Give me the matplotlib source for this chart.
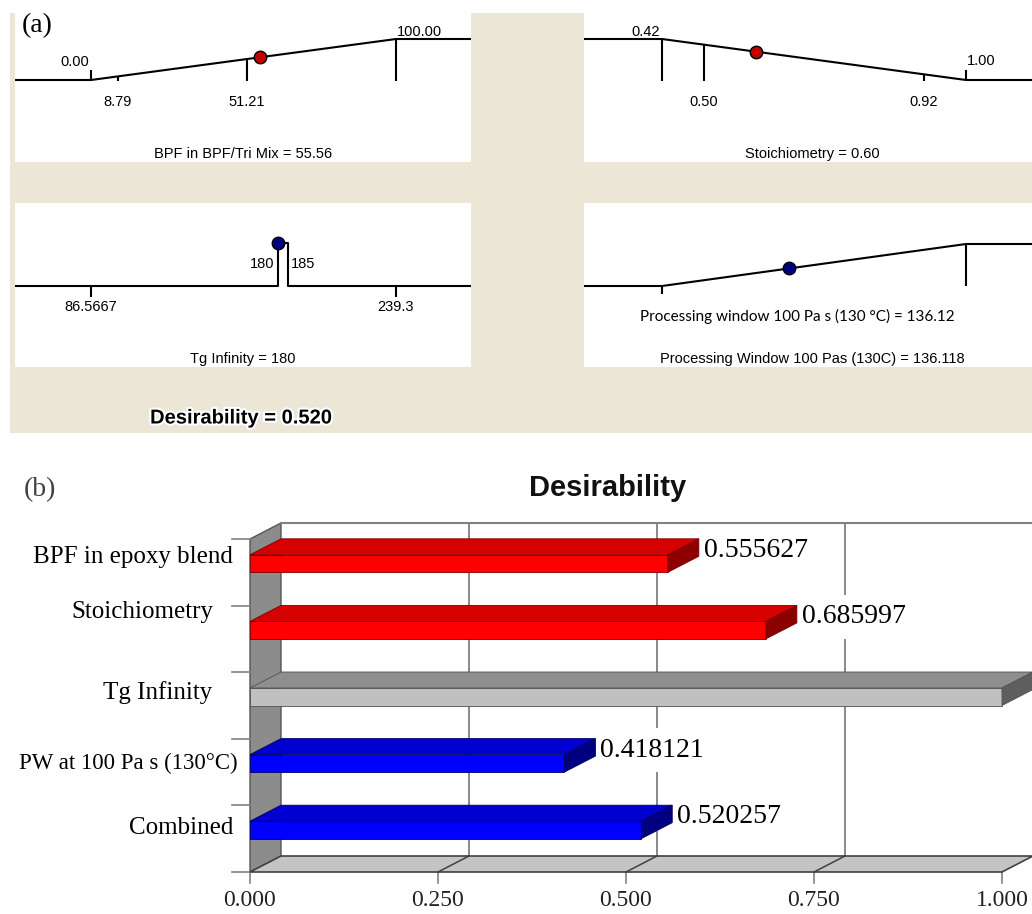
import numpy as np
import matplotlib
matplotlib.use('Agg')
import matplotlib.pyplot as plt
from matplotlib.patches import Rectangle, Polygon
import matplotlib.patheffects as pe

# ---------------- data : panel (a) ----------------
bpf_limits = [0.00, 100.00]
bpf_range = [8.79, 51.21]
bpf_value = 55.56

stoich_limits = [0.42, 1.00]
stoich_range = [0.50, 0.92]
stoich_value = 0.60

tg_range = [86.5667, 239.3]
tg_target = [180, 185]
tg_value = 180

pw_limits = [60.0, 242.0]      # estimated (not labelled in the figure)
pw_value = 136.12
pw_value_precise = 136.118
desirability_total = 0.520

# ---------------- data : panel (b) ----------------
categories = ['BPF in epoxy blend', 'Stoichiometry', 'Tg Infinity',
              'PW at 100 Pa s (130°C)', 'Combined']
desir_values = [0.555627, 0.685997, 1.0, 0.418121, 0.520257]
value_labels = ['0.555627', '0.685997', '', '0.418121', '0.520257']
bar_color_keys = ['red', 'red', 'gray', 'blue', 'blue']
x_ticks = [0.0, 0.25, 0.5, 0.75, 1.0]
x_tick_labels = ['0.000', '0.250', '0.500', '0.750', '1.000']

# ---------------- figure ----------------
W, H, DPI = 1032, 914, 100
fig = plt.figure(figsize=(W / DPI, H / DPI), dpi=DPI)
fig.patch.set_facecolor('white')

SANS = 'Liberation Sans'
SERIF = 'Liberation Serif'
BEIGE = '#ECE6D7'


def px_axes(x0, y0, x1, y1):
    ax = fig.add_axes([x0 / W, 1 - y1 / H, (x1 - x0) / W, (y1 - y0) / H])
    ax.set_xticks([]); ax.set_yticks([])
    for s in ax.spines.values():
        s.set_visible(False)
    ax.set_facecolor('white')
    return ax


def fig_text(x, y, s, **kw):
    return fig.text(x / W, 1 - y / H, s, **kw)


# beige background of panel (a)
fig.add_artist(Rectangle((10 / W, 1 - 433 / H), 1022 / W, 420 / H,
                         transform=fig.transFigure, facecolor=BEIGE,
                         edgecolor='none', zorder=-5))


def ramp_axes(box, v0, p0, v1, p1, base_px, one_px):
    x0, y0, x1, y1 = box
    ax = px_axes(x0, y0, x1, y1)
    ppu = (p1 - p0) / (v1 - v0)
    ax.set_xlim(v0 - (p0 - x0) / ppu, v0 + (x1 - p0) / ppu)
    dpu = base_px - one_px
    ax.set_ylim(-(y1 - base_px) / dpu, (base_px - y0) / dpu)
    return ax


def lab(ax, x, d, s, dx, dy, ha='center', size=10.5, family=SANS, **kw):
    ax.annotate(s, xy=(x, d), xytext=(dx, dy), textcoords='offset pixels',
                ha=ha, va='center', fontsize=size, family=family,
                annotation_clip=False, **kw)


LW = 1.5
SMALL = 10.5

# ---- BPF panel ----
ax = ramp_axes((15, 13, 471, 162), bpf_limits[0], 91, bpf_limits[1], 396, 80, 39)
xl = ax.get_xlim()
ramp = lambda x: np.interp(x, bpf_limits, [0, 1])
ax.plot([xl[0]] + bpf_limits + [xl[1]], [0, 0, 1, 1], color='black', lw=LW)
ax.vlines(bpf_limits[0], 0, 0.24, color='black', lw=LW)
for v in bpf_range + [bpf_limits[1]]:
    ax.vlines(v, -0.03, ramp(v), color='black', lw=LW)
ax.plot(bpf_value, ramp(bpf_value), 'o', ms=9, mfc='#C00000', mec='black', mew=1, zorder=5)
lab(ax, bpf_limits[0], 0, f'{bpf_limits[0]:.2f}', -2, 18, ha='right')
lab(ax, bpf_limits[1], 1, f'{bpf_limits[1]:.2f}', 1, 7, ha='left')
for v in bpf_range:
    lab(ax, v, 0, f'{v:.2f}', 0, -22)
ax.text(0.5, 8 / 149, f'BPF in BPF/Tri Mix = {bpf_value:.2f}', transform=ax.transAxes,
        ha='center', va='center', fontsize=SMALL, family=SANS)

# ---- Stoichiometry panel ----
ax = ramp_axes((584, 13, 1040, 162), stoich_limits[0], 662, stoich_limits[1], 966, 80, 39)
xl = ax.get_xlim()
ramp = lambda x: np.interp(x, stoich_limits, [1, 0])
ax.plot([xl[0]] + stoich_limits + [xl[1]], [1, 1, 0, 0], color='black', lw=LW)
ax.vlines(stoich_limits[1], 0, 0.24, color='black', lw=LW)
for v in [stoich_limits[0]] + stoich_range:
    ax.vlines(v, -0.03, ramp(v), color='black', lw=LW)
ax.plot(stoich_value, ramp(stoich_value), 'o', ms=9, mfc='#C00000', mec='black', mew=1, zorder=5)
lab(ax, stoich_limits[0], 1, f'{stoich_limits[0]:.2f}', -2, 7, ha='right')
lab(ax, stoich_limits[1], 0, f'{stoich_limits[1]:.2f}', 1, 19, ha='left')
for v in stoich_range:
    lab(ax, v, 0, f'{v:.2f}', 0, -22)
ax.text(0.5, 8 / 149, f'Stoichiometry = {stoich_value:.2f}', transform=ax.transAxes,
        ha='center', va='center', fontsize=SMALL, family=SANS)

# ---- Tg panel ----
ax = ramp_axes((15, 203, 471, 367), tg_range[0], 91, tg_range[1], 396, 286, 243)
xl = ax.get_xlim()
ax.plot([xl[0], tg_target[0], tg_target[0], tg_target[1], tg_target[1], xl[1]],
        [0, 0, 1, 1, 0, 0], color='black', lw=LW)
for v in tg_range:
    ax.vlines(v, -0.256, 0, color='black', lw=LW)
ax.plot(tg_value, 1, 'o', ms=9, mfc='#000080', mec='black', mew=1, zorder=5)
lab(ax, tg_target[0], 0, f'{tg_target[0]}', -3, 22, ha='right')
lab(ax, tg_target[1], 0, f'{tg_target[1]}', 3, 22, ha='left')
for v in tg_range:
    lab(ax, v, 0, f'{v:g}', 0, -21)
ax.text(0.5, 8 / 164, f'Tg Infinity = {tg_value}', transform=ax.transAxes,
        ha='center', va='center', fontsize=SMALL, family=SANS)

# ---- Processing window panel ----
ax = ramp_axes((584, 203, 1040, 367), pw_limits[0], 662, pw_limits[1], 966, 286, 244)
xl = ax.get_xlim()
ramp = lambda x: np.interp(x, pw_limits, [0, 1])
ax.plot([xl[0]] + pw_limits + [xl[1]], [0, 0, 1, 1], color='black', lw=LW)
ax.vlines(pw_limits[0], -0.19, 0, color='black', lw=LW)
ax.vlines(pw_limits[1], 0, 1, color='black', lw=LW)
ax.plot(pw_value, ramp(pw_value), 'o', ms=9, mfc='#000080', mec='black', mew=1, zorder=5)
ax.text(0.467, 51 / 164, f'Processing window 100 Pa s (130 °C) = {pw_value:.2f}',
        transform=ax.transAxes, ha='center', va='center', fontsize=11, family='Lato')
ax.text(0.5, 8 / 164, f'Processing Window 100 Pas (130C) = {pw_value_precise:.3f}',
        transform=ax.transAxes, ha='center', va='center', fontsize=SMALL, family=SANS)

fig_text(241, 418, f'Desirability = {desirability_total:.3f}', ha='center', va='center',
         fontsize=14.5, fontweight='bold', family=SANS,
         path_effects=[pe.withStroke(linewidth=3, foreground='white')])
fig_text(22, 26, '(a)', ha='left', va='center', fontsize=20, family=SERIF)

# ---------------- panel (b) : 3-D style bar chart ----------------
X0_PX, PPU_X = 250, 752.0      # front plane: 0 -> 250 px, 1 -> 1002 px
Y0_PX, PPU_Y = 872, 66.6       # front floor edge at 872 px, one category = 66.6 px
axb = px_axes(0, 440, 1032, 914)
axb.set_xlim((0 - X0_PX) / PPU_X, (1032 - X0_PX) / PPU_X)
axb.set_ylim((Y0_PX - 914) / PPU_Y, (Y0_PX - 440) / PPU_Y)

n = len(categories)
DX, DY = 31 / PPU_X, 16 / PPU_Y          # depth offset
FH = 17.5 / PPU_Y                        # front-face height of a bar
GRID = '#808080'

# back wall gridlines and border
for t in x_ticks[1:-1]:
    axb.plot([t + DX, t + DX], [DY, n + DY], color=GRID, lw=1.3, zorder=1)
axb.plot([1 + DX, 1 + DX], [DY, n + DY], color=GRID, lw=1.3, zorder=1)
axb.plot([DX, 1 + DX], [n + DY, n + DY], color=GRID, lw=1.5, zorder=2.6)

# left wall
axb.add_patch(Polygon([(0, 0), (DX, DY), (DX, n + DY), (0, n)], closed=True,
                      fc='#8c8c8c', ec='#555555', lw=1, zorder=2))
# floor
axb.add_patch(Polygon([(0, 0), (1, 0), (1 + DX, DY), (DX, DY)], closed=True,
                      fc='#c4c4c4', ec='#404040', lw=1.2, zorder=2.7))
for t in x_ticks[1:-1]:
    axb.plot([t, t + DX], [0, DY], color='#404040', lw=1.1, zorder=2.8)

# axis ticks
for k in range(n + 1):
    axb.plot([-18 / PPU_X, 0], [k, k], color=GRID, lw=1.2, zorder=2)
for t, tl in zip(x_ticks, x_tick_labels):
    axb.plot([t, t], [0, -11 / PPU_Y], color=GRID, lw=1.2, zorder=2)
    axb.text(t, -28 / PPU_Y, tl, ha='center', va='center', fontsize=17,
             family=SERIF, color='#222222')

PALETTE = {
    'red': ('#FF0000', '#D60000', '#8C0000', '#7a0000'),
    'blue': ('#0000FF', '#0000D0', '#000080', '#000060'),
    'gray': ('#C0C0C0', '#8E8E8E', '#5E5E5E', '#505050'),
}

# category label placement / size (style)
cat_label_right_px = [233, 213, 212, 238, 233]
cat_label_dy_px = [-15, -27, -13, -9, -11]
cat_label_size = [18, 18, 18, 16.5, 18]

for i, (cat, v, key, vl) in enumerate(zip(categories, desir_values, bar_color_keys, value_labels)):
    uc = n - 0.5 - i
    front, top, side, edge = PALETTE[key]
    b, t_ = uc, uc + FH
    axb.add_patch(Polygon([(0, b), (v, b), (v, t_), (0, t_)], closed=True,
                          fc=front, ec=edge, lw=0.6, zorder=3))
    axb.add_patch(Polygon([(0, t_), (v, t_), (v + DX, t_ + DY), (DX, t_ + DY)], closed=True,
                          fc=top, ec=edge, lw=0.6, zorder=3))
    axb.add_patch(Polygon([(v, b), (v, t_), (v + DX, t_ + DY), (v + DX, b + DY)], closed=True,
                          fc=side, ec=edge, lw=0.6, zorder=3))
    if vl:
        axb.text(v + DX + 5 / PPU_X, uc + 22 / PPU_Y, vl, ha='left', va='center',
                 fontsize=20, family=SERIF, zorder=2.5,
                 bbox=dict(boxstyle='square,pad=0.35', fc='white', ec='none'))
    axb.text((cat_label_right_px[i] - X0_PX) / PPU_X, uc - cat_label_dy_px[i] / PPU_Y, cat,
             ha='right', va='center', fontsize=cat_label_size[i], family=SERIF, color='black')

fig_text(608, 488, 'Desirability', ha='center', va='center', fontsize=21,
         fontweight='bold', family=SANS, color='#111111')
fig_text(24, 490, '(b)', ha='left', va='center', fontsize=20, family=SERIF, color='#404040')

fig.savefig('out.png', dpi=DPI, facecolor='white')
